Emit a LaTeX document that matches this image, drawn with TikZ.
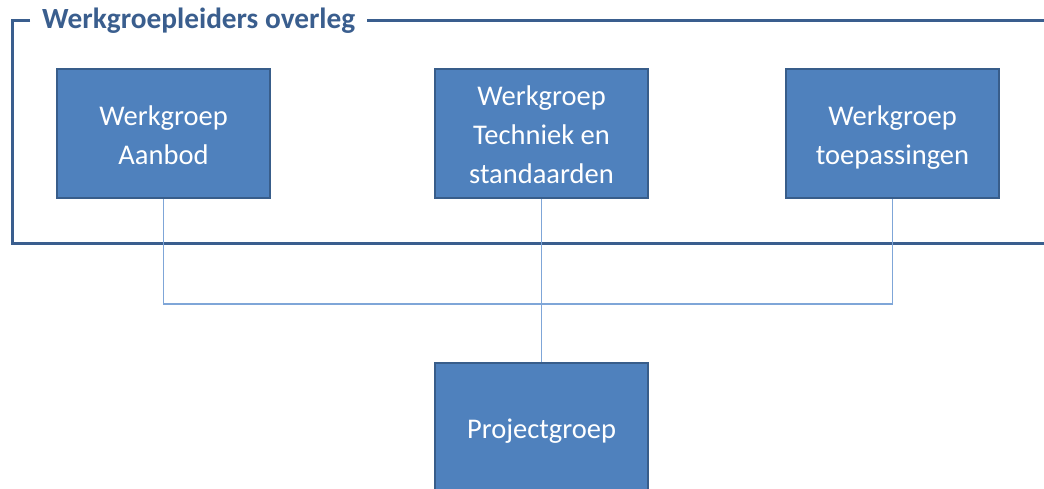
\documentclass[tikz,border=0pt]{standalone}
\usepackage{fontspec}
\setmainfont{Carlito}
\definecolor{boxfill}{HTML}{4F81BD}
\definecolor{boxline}{HTML}{385D8A}
\definecolor{frameline}{HTML}{3A5E8E}
\definecolor{conn}{HTML}{7FA6D8}
\newcommand\lnstrut{\rule[-8pt]{0pt}{38pt}}
\begin{document}
\begin{tikzpicture}[x=1pt,y=-1pt,
  wbox/.style={draw=boxline, fill=boxfill, line width=2.5pt, minimum width=213pt, minimum height=129pt,
    text=white, align=center, inner sep=0pt, font=\fontsize{28.5}{37}\selectfont},
  connline/.style={draw=conn, line width=1.5pt},
  frameln/.style={draw=frameline, line width=3pt}]
\useasboundingbox (0,0) rectangle (1044,488);
\clip (0,0) rectangle (1044,488);
% frame
\draw[frameln] (30,20) -- (12,20) -- (12,243) -- (1050,243);
\draw[frameln] (367,20) -- (1050,20);
\node[anchor=west, text=frameline, inner sep=0pt, font=\bfseries\fontsize{29.3}{34}\selectfont] (title) at (42,20.5) {Werkgroepleiders overleg};
% boxes
\node[wbox] (aan) at (163.5,133.5) {\lnstrut Werkgroep\\\lnstrut Aanbod};
\node[wbox] (tech) at (541.5,133.5) {\lnstrut Werkgroep\\\lnstrut Techniek en\\\lnstrut standaarden};
\node[wbox] (toe) at (892.5,133.5) {\lnstrut Werkgroep\\\lnstrut toepassingen};
\node[wbox] (proj) at (541.5,427.5) {\lnstrut Projectgroep};
% connectors
\coordinate (j1) at (aan.south |- 0,304);
\coordinate (j3) at (toe.south |- 0,304);
\draw[connline] (aan.south) -- (j1) -- (j3) -- (toe.south);
\draw[connline] (tech.south) -- (proj.north);
\end{tikzpicture}
\end{document}
